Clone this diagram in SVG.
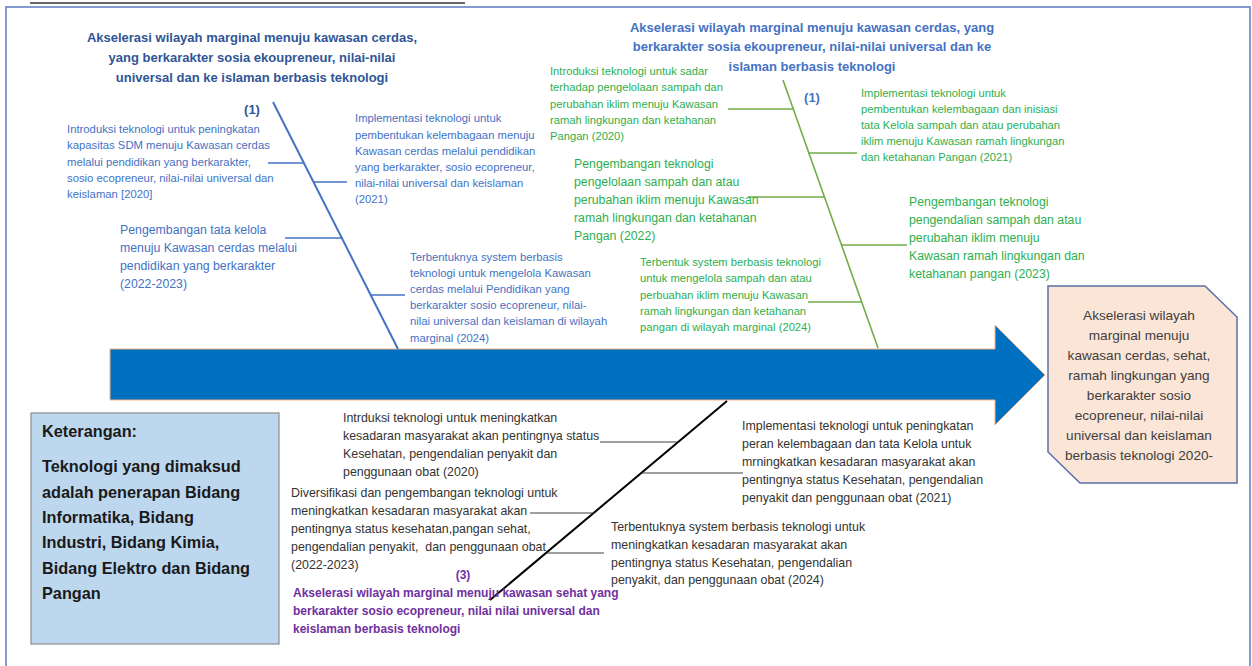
<svg xmlns="http://www.w3.org/2000/svg" width="1252" height="666" viewBox="0 0 1252 666">
<style>
text{font-family:"Liberation Sans",Arial,sans-serif;}
.hd1{font-size:13px;font-weight:bold;fill:#2F5597;text-anchor:middle;}
.hd2{font-size:13px;font-weight:bold;fill:#4472C4;text-anchor:middle;}
.bs{font-size:11.3px;fill:#4472C4;}
.bl{font-size:12.3px;fill:#4472C4;}
.gs{font-size:11.2px;fill:#2DAF4F;}
.gl{font-size:12.3px;fill:#2DAF4F;}
.k{font-size:12.4px;fill:#333333;}
.pu{font-size:12px;font-weight:bold;fill:#7030A0;}
.lg{font-size:16.3px;font-weight:bold;fill:#1A1A1A;}
.rs{font-size:13.6px;fill:#404040;text-anchor:middle;}
.blue{stroke:#4472C4;fill:none;}
.green{stroke:#70AD47;fill:none;}
.dark{stroke:#404040;fill:none;}
</style>
<rect width="1252" height="666" fill="#ffffff"/>
<g id="frame">
<line x1="30" y1="3" x2="465" y2="3" stroke="#666666" stroke-width="2"/>
<rect x="6" y="7" width="1244" height="720" fill="none" stroke="#5B7BC0" stroke-width="1.5"/>
</g>
<g id="main-arrow">
<path d="M110,349 H995 V325 L1045,375 L995,425 V400 H110 Z" fill="#0070C0" stroke="#F4B183" stroke-width="1"/>
</g>
<g id="connectors">
<line class="blue" x1="273" y1="102" x2="398" y2="349" stroke-width="2"/>
<line class="blue" x1="268" y1="163" x2="304" y2="163" stroke-width="1.5"/>
<line class="blue" x1="313" y1="182" x2="347" y2="182" stroke-width="1.5"/>
<line class="blue" x1="285" y1="238" x2="343" y2="238" stroke-width="1.5"/>
<line class="blue" x1="370" y1="295" x2="405" y2="295" stroke-width="1.5"/>
<line class="green" x1="783" y1="80" x2="878" y2="348" stroke-width="1.6"/>
<line class="green" x1="728" y1="109" x2="793" y2="109" stroke-width="1.5"/>
<line class="green" x1="808" y1="153" x2="857" y2="153" stroke-width="1.5"/>
<line class="green" x1="748" y1="197" x2="824" y2="197" stroke-width="1.5"/>
<line class="green" x1="841" y1="245" x2="907" y2="245" stroke-width="1.5"/>
<line class="green" x1="808" y1="302" x2="861" y2="302" stroke-width="1.5"/>
<line x1="490" y1="600" x2="727" y2="401" stroke="#000000" stroke-width="2"/>
<line class="dark" x1="600" y1="442" x2="678" y2="442" stroke-width="1.2"/>
<line class="dark" x1="642" y1="473" x2="743" y2="473" stroke-width="1.2"/>
<line class="dark" x1="530" y1="513" x2="594" y2="513" stroke-width="1.2"/>
<line class="dark" x1="547" y1="553" x2="604" y2="553" stroke-width="1.2"/>
</g>
<g id="heading-left">
<text class="hd1"><tspan x="252" y="42">Akselerasi wilayah marginal menuju kawasan cerdas,</tspan><tspan x="252" y="62">yang berkarakter sosia ekoupreneur, nilai-nilai</tspan><tspan x="252" y="82">universal dan ke islaman berbasis teknologi</tspan></text>
<text class="hd1" x="252" y="113.5">(1)</text>
</g>
<g id="blue-2020">
<text class="bs"><tspan x="67" y="133">Introduksi teknologi untuk peningkatan</tspan><tspan x="67" y="149.3">kapasitas SDM menuju Kawasan cerdas</tspan><tspan x="67" y="165.6">melalui pendidikan yang berkarakter,</tspan><tspan x="67" y="181.9">sosio ecopreneur, nilai-nilai universal dan</tspan><tspan x="67" y="198.2">keislaman [2020]</tspan></text>
</g>
<g id="blue-2021">
<text class="bs"><tspan x="355" y="122.3">Implementasi teknologi untuk</tspan><tspan x="355" y="138.5">pembentukan kelembagaan menuju</tspan><tspan x="355" y="154.7">Kawasan cerdas melalui pendidikan</tspan><tspan x="355" y="170.9">yang berkarakter, sosio ecopreneur,</tspan><tspan x="355" y="187.1">nilai-nilai universal dan keislaman</tspan><tspan x="355" y="203.3">(2021)</tspan></text>
</g>
<g id="blue-2022">
<text class="bl"><tspan x="120" y="233.5">Pengembangan tata kelola</tspan><tspan x="120" y="251.5">menuju Kawasan cerdas melalui</tspan><tspan x="120" y="269.5">pendidikan yang berkarakter</tspan><tspan x="120" y="287.5">(2022-2023)</tspan></text>
</g>
<g id="blue-2024">
<text class="bs"><tspan x="410" y="261">Terbentuknya system berbasis</tspan><tspan x="410" y="277.1">teknologi untuk mengelola Kawasan</tspan><tspan x="410" y="293.2">cerdas melalui Pendidikan yang</tspan><tspan x="410" y="309.3">berkarakter sosio ecopreneur, nilai-</tspan><tspan x="410" y="325.4">nilai universal dan keislaman di wilayah</tspan><tspan x="410" y="341.5">marginal (2024)</tspan></text>
</g>
<g id="heading-right">
<text class="hd2"><tspan x="812" y="31.5">Akselerasi wilayah marginal menuju kawasan cerdas, yang</tspan><tspan x="812" y="51">berkarakter sosia ekoupreneur, nilai-nilai universal dan ke</tspan><tspan x="812" y="70.5">islaman berbasis teknologi</tspan></text>
<text class="hd2" x="812" y="101.5">(1)</text>
</g>
<g id="green-2020">
<text class="gs"><tspan x="550" y="75">Introduksi teknologi untuk sadar</tspan><tspan x="550" y="91.3">terhadap pengelolaan sampah dan</tspan><tspan x="550" y="107.5">perubahan iklim menuju Kawasan</tspan><tspan x="550" y="123.8">ramah lingkungan dan ketahanan</tspan><tspan x="550" y="140">Pangan (2020)</tspan></text>
</g>
<g id="green-2021">
<text class="gs"><tspan x="861" y="97">Implementasi teknologi untuk</tspan><tspan x="861" y="113">pembentukan kelembagaan dan inisiasi</tspan><tspan x="861" y="129">tata Kelola sampah dan atau perubahan</tspan><tspan x="861" y="145">iklim menuju Kawasan ramah lingkungan</tspan><tspan x="861" y="161">dan ketahanan Pangan (2021)</tspan></text>
</g>
<g id="green-2022">
<text class="gl"><tspan x="574" y="167.5">Pengembangan teknologi</tspan><tspan x="574" y="185.5">pengelolaan sampah dan atau</tspan><tspan x="574" y="203.5">perubahan iklim menuju Kawasan</tspan><tspan x="574" y="221.5">ramah lingkungan dan ketahanan</tspan><tspan x="574" y="239.5">Pangan (2022)</tspan></text>
</g>
<g id="green-2023">
<text class="gl"><tspan x="909" y="205.5">Pengembangan teknologi</tspan><tspan x="909" y="223.5">pengendalian sampah dan atau</tspan><tspan x="909" y="241.5">perubahan iklim menuju</tspan><tspan x="909" y="259.5">Kawasan ramah lingkungan dan</tspan><tspan x="909" y="277.5">ketahanan pangan (2023)</tspan></text>
</g>
<g id="green-2024">
<text class="gs"><tspan x="640" y="266">Terbentuk system berbasis teknologi</tspan><tspan x="640" y="282.3">untuk mengelola sampah dan atau</tspan><tspan x="640" y="298.5">perbuahan iklim menuju Kawasan</tspan><tspan x="640" y="314.8">ramah lingkungan dan ketahanan</tspan><tspan x="640" y="331">pangan di wilayah marginal (2024)</tspan></text>
</g>
<g id="result">
<path d="M1048,286 H1205 L1237,317 V483 H1080 L1048,452 Z" fill="#FBE5D6" stroke="#5A6FA8" stroke-width="1.5"/>
<text class="rs"><tspan x="1139" y="320">Akselerasi wilayah</tspan><tspan x="1139" y="340">marginal menuju</tspan><tspan x="1139" y="360">kawasan cerdas, sehat,</tspan><tspan x="1139" y="380">ramah lingkungan yang</tspan><tspan x="1139" y="400">berkarakter sosio</tspan><tspan x="1139" y="420">ecopreneur, nilai-nilai</tspan><tspan x="1139" y="440">universal dan keislaman</tspan><tspan x="1139" y="460">berbasis teknologi 2020-</tspan></text>
</g>
<g id="legend">
<rect x="31" y="413" width="248" height="231" fill="#BDD7EE" stroke="#8C8C8C" stroke-width="1.2"/>
<text class="lg" x="42" y="437">Keterangan:</text>
<text class="lg"><tspan x="42" y="472">Teknologi yang dimaksud</tspan><tspan x="42" y="497.5">adalah penerapan Bidang</tspan><tspan x="42" y="523">Informatika, Bidang</tspan><tspan x="42" y="548">Industri, Bidang Kimia,</tspan><tspan x="42" y="573.5">Bidang Elektro dan Bidang</tspan><tspan x="42" y="599">Pangan</tspan></text>
</g>
<g id="black-2020">
<text class="k"><tspan x="343" y="421.5">Intrduksi teknologi untuk meningkatkan</tspan><tspan x="343" y="439.7">kesadaran masyarakat akan pentingnya status</tspan><tspan x="343" y="457.9">Kesehatan, pengendalian penyakit dan</tspan><tspan x="343" y="476.1">penggunaan obat (2020)</tspan></text>
</g>
<g id="black-2021">
<text class="k"><tspan x="742" y="429.5">Implementasi teknologi untuk peningkatan</tspan><tspan x="742" y="447.5">peran kelembagaan dan tata Kelola untuk</tspan><tspan x="742" y="465.5">mrningkatkan kesadaran masyarakat akan</tspan><tspan x="742" y="483.5">pentingnya status Kesehatan, pengendalian</tspan><tspan x="742" y="501.5">penyakit dan penggunaan obat (2021)</tspan></text>
</g>
<g id="black-2022">
<text class="k"><tspan x="291" y="496.5">Diversifikasi dan pengembangan teknologi untuk</tspan><tspan x="291" y="514.5">meningkatkan kesadaran masyarakat akan</tspan><tspan x="291" y="532.5">pentingnya status kesehatan,pangan sehat,</tspan><tspan x="291" y="550.5" xml:space="preserve">pengendalian penyakit,  dan penggunaan obat</tspan><tspan x="291" y="568.5">(2022-2023)</tspan></text>
</g>
<g id="black-2024">
<text class="k"><tspan x="611" y="531">Terbentuknya system berbasis teknologi untuk</tspan><tspan x="611" y="548.8">meningkatkan kesadaran masyarakat akan</tspan><tspan x="611" y="566.6">pentingnya status Kesehatan, pengendalian</tspan><tspan x="611" y="584.4">penyakit, dan penggunaan obat (2024)</tspan></text>
</g>
<g id="heading-bottom">
<text class="pu" x="463" y="578.5" text-anchor="middle">(3)</text>
<text class="pu"><tspan x="293" y="596.5">Akselerasi wilayah marginal menuju kawasan sehat yang</tspan><tspan x="293" y="614.8">berkarakter sosio ecopreneur, nilai nilai universal dan</tspan><tspan x="293" y="633">keislaman berbasis teknologi</tspan></text>
</g>
</svg>
